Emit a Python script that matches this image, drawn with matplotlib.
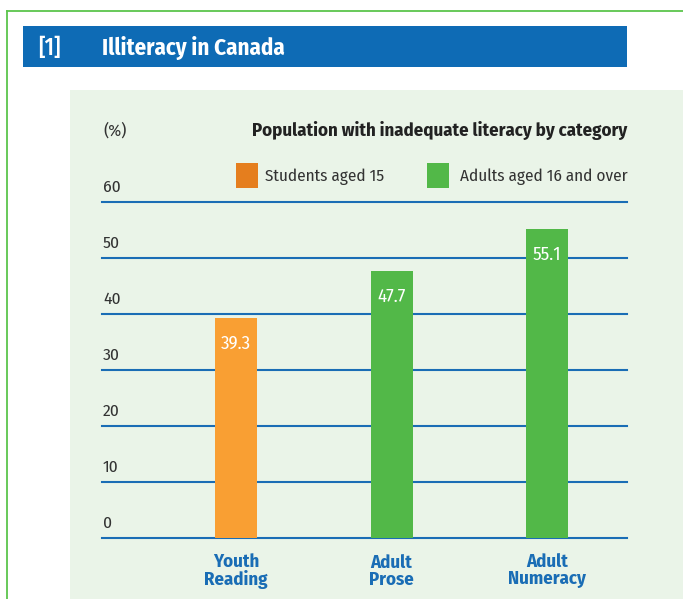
import matplotlib
matplotlib.use("Agg")
import matplotlib.pyplot as plt
from matplotlib.patches import Rectangle
from matplotlib.lines import Line2D
from matplotlib.transforms import ScaledTranslation, blended_transform_factory

# ---- data ----
categories = ["Youth\nReading", "Adult\nProse", "Adult\nNumeracy"]
values = [39.3, 47.7, 55.1]
groups = ["Students aged 15", "Adults aged 16 and over", "Adults aged 16 and over"]
yticks = [0, 10, 20, 30, 40, 50, 60]
legend_labels = ["Students aged 15", "Adults aged 16 and over"]

title_num = "[1]"
title_text = "Illiteracy in Canada"
subtitle = "Population with inadequate literacy by category"
unit_label = "(%)"

# ---- style ----
W, H = 683, 599
FONT = ["Fira Sans Condensed", "DejaVu Sans"]
bar_colors = {"Students aged 15": "#f99f33", "Adults aged 16 and over": "#52b848"}
legend_colors = ["#e57e1e", "#52b848"]
blue = "#1a6db5"
panel_bg = "#eaf4e8"
border_green = "#5cc54c"
text_dark = "#333333"

fig = plt.figure(figsize=(W / 100, H / 100), dpi=100)
fig.patch.set_facecolor("white")


def fx(px):
    return px / W


def fy(py):
    return 1 - py / H


# outer green border (top and left)
fig.add_artist(Line2D([fx(6.5), 1], [fy(10.5), fy(10.5)], color=border_green, lw=1.3, zorder=-1))
fig.add_artist(Line2D([fx(6.5), fx(6.5)], [fy(10.5), 0], color=border_green, lw=1.3, zorder=-1))

# title bar
fig.add_artist(Rectangle((fx(23), fy(67)), fx(627) - fx(23), fy(26) - fy(67),
                         facecolor="#0e6bb5", edgecolor="none", zorder=-1))
fig.text(fx(38), fy(48), title_num, color="white", fontsize=16.5, fontweight="medium",
         family=FONT, va="center", ha="left")
fig.text(fx(102), fy(48), title_text, color="white", fontsize=16.5, fontweight="bold",
         family=FONT, va="center", ha="left")

# light green panel
fig.add_artist(Rectangle((fx(70), 0), 1 - fx(70), fy(90), facecolor=panel_bg,
                         edgecolor="none", zorder=-2))

# axes
ax_left, ax_right, ax_top, ax_bottom = 102, 627, 202, 538
ax = fig.add_axes([fx(ax_left), fy(ax_bottom), fx(ax_right) - fx(ax_left), fy(ax_top) - fy(ax_bottom)])
ax.set_facecolor("none")
ax.set_zorder(1)
for s in ax.spines.values():
    s.set_visible(False)

spacing_px = 155.5
first_center_px = 236
x0 = -(first_center_px - ax_left) / spacing_px
x1 = x0 + (ax_right - ax_left) / spacing_px
ax.set_xlim(x0, x1)
ax.set_ylim(0, 60)

xs = list(range(len(categories)))
bar_w = 42 / spacing_px
ax.bar(xs, values, width=bar_w, color=[bar_colors[g] for g in groups], zorder=3)

# grid lines
for t in yticks:
    ax.axhline(t, color=blue, lw=1.5, zorder=2, clip_on=False)

ax.set_xticks([])
ax.set_yticks([])

# y tick labels above lines
off = ScaledTranslation(1 / 100, 15 / 100, fig.dpi_scale_trans)
tr = blended_transform_factory(ax.transAxes, ax.transData) + off
for t in yticks:
    ax.text(0, t, str(t), transform=tr, ha="left", va="center", fontsize=12.5,
            color=text_dark, family=FONT)

# value labels
val_off = ScaledTranslation(0, -25.5 / 100, fig.dpi_scale_trans)
for x, v in zip(xs, values):
    ax.text(x, v, f"{v:.1f}", transform=ax.transData + val_off, ha="center", va="center",
            fontsize=13.5, color="white", family=FONT, zorder=4)

# category labels
cat_off = ScaledTranslation(0, -33 / 100, fig.dpi_scale_trans)
for x, c in zip(xs, categories):
    ax.text(x, 0, c, transform=ax.transData + cat_off, ha="center", va="center",
            fontsize=13.5, color=blue, fontweight="bold", family=FONT, linespacing=0.95,
            clip_on=False)

# header texts
fig.text(fx(103), fy(131), unit_label, ha="left", va="center", fontsize=12.5,
         color=text_dark, family=FONT)
fig.text(fx(627), fy(131), subtitle, ha="right", va="center", fontsize=13.5,
         color="#222222", fontweight="bold", family=FONT)

# legend
leg_items = [(236, 265), (427, 460)]
for (px, tx), lab, col in zip(leg_items, legend_labels, legend_colors):
    fig.add_artist(Rectangle((fx(px), fy(188)), fx(22), fy(163) - fy(188),
                             facecolor=col, edgecolor="none"))
    fig.text(fx(tx), fy(177), lab, ha="left", va="center", fontsize=12.3,
             color=text_dark, family=FONT)

fig.savefig("out.png", dpi=100, facecolor=fig.get_facecolor())
